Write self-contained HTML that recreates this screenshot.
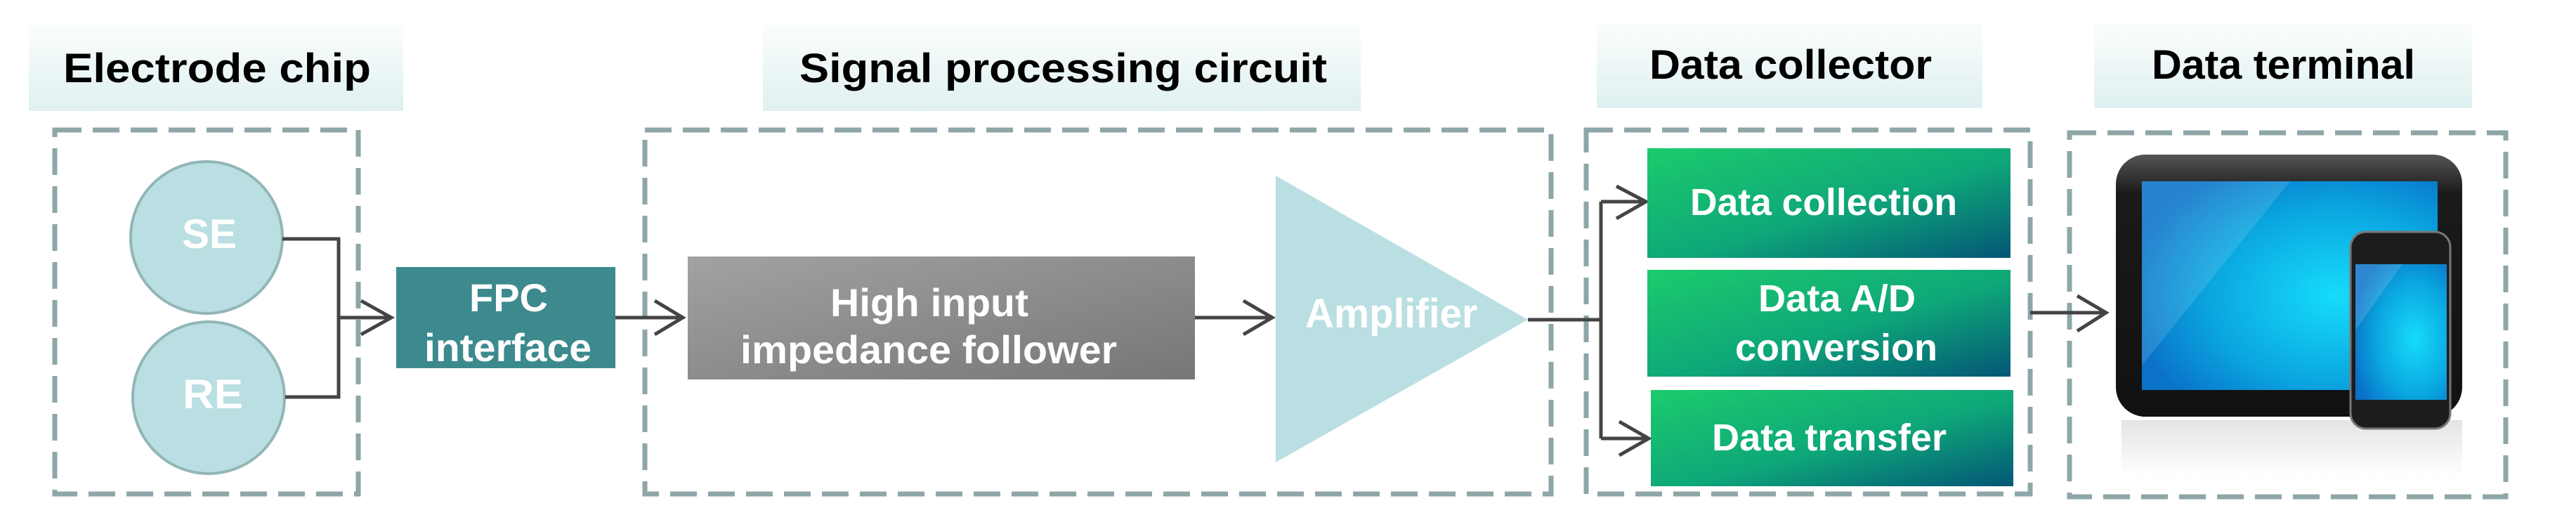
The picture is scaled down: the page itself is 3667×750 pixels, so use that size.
<!DOCTYPE html>
<html><head><meta charset="utf-8"><style>
html,body{margin:0;padding:0;background:#fff;width:3667px;height:750px;overflow:hidden}
text{font-family:"Liberation Sans Narrow","Liberation Sans",Arial,sans-serif;font-weight:bold}
</style></head><body>
<svg width="3667" height="750" viewBox="0 0 3667 750" xmlns="http://www.w3.org/2000/svg">
<defs>
<linearGradient id="tg" x1="0" y1="0" x2="0" y2="1"><stop offset="0" stop-color="#fbfdfd"/><stop offset="1" stop-color="#dff0f0"/></linearGradient>
<linearGradient id="gg" x1="0" y1="0" x2="1" y2="1"><stop offset="0" stop-color="#1ccb6c"/><stop offset="0.55" stop-color="#0ea779"/><stop offset="1" stop-color="#045676"/></linearGradient>
<linearGradient id="hg" x1="0" y1="0" x2="1" y2="1"><stop offset="0" stop-color="#a2a2a2"/><stop offset="1" stop-color="#767676"/></linearGradient>
<radialGradient id="sg" cx="0.65" cy="0.55" r="0.7"><stop offset="0" stop-color="#16dcfa"/><stop offset="0.6" stop-color="#0aa6e0"/><stop offset="1" stop-color="#0a72c8"/></radialGradient>
<linearGradient id="rf" x1="0" y1="0" x2="0" y2="1"><stop offset="0" stop-color="#d8d8d8"/><stop offset="1" stop-color="#ffffff"/></linearGradient>
<linearGradient id="fr" x1="0" y1="0" x2="0" y2="1"><stop offset="0" stop-color="#555"/><stop offset="0.15" stop-color="#1a1a1a"/><stop offset="1" stop-color="#111"/></linearGradient>
</defs>
<rect x="41" y="36" width="533" height="122" fill="url(#tg)"/>
<text x="90" y="117" font-size="58" textLength="438" lengthAdjust="spacingAndGlyphs">Electrode chip</text>
<rect x="1086" y="36" width="851" height="122" fill="url(#tg)"/>
<text x="1138" y="117" font-size="58" textLength="751" lengthAdjust="spacingAndGlyphs">Signal processing circuit</text>
<rect x="2273" y="34" width="549" height="120" fill="url(#tg)"/>
<text x="2348" y="112" font-size="58" textLength="402" lengthAdjust="spacingAndGlyphs">Data collector</text>
<rect x="2981" y="34" width="538" height="120" fill="url(#tg)"/>
<text x="3063" y="112" font-size="58" textLength="375" lengthAdjust="spacingAndGlyphs">Data terminal</text>
<g fill="none" stroke="#8ea6a7" stroke-width="7" stroke-dasharray="38 16">
<rect x="78" y="185" width="432" height="518"/>
<rect x="918" y="185" width="1290" height="518"/>
<rect x="2258" y="185" width="632" height="518"/>
<rect x="2946" y="189" width="621" height="518"/>
</g>
<ellipse cx="294" cy="338" rx="108" ry="108" fill="#b9dfe2" stroke="#92b6b8" stroke-width="4"/>
<ellipse cx="297" cy="566" rx="108" ry="108" fill="#b9dfe2" stroke="#92b6b8" stroke-width="4"/>
<text x="259" y="353" font-size="58" fill="#fff" textLength="78" lengthAdjust="spacingAndGlyphs">SE</text>
<text x="260" y="581" font-size="58" fill="#fff" textLength="86" lengthAdjust="spacingAndGlyphs">RE</text>
<g fill="none" stroke="#444" stroke-width="5">
<polyline points="402,340 482,340 482,565 406,565"/>
<line x1="482" y1="452" x2="556" y2="452"/>
<polyline points="514,428 557,452 514,476"/>
<line x1="876" y1="452" x2="971" y2="452"/>
<polyline points="932,428 972,452 932,476"/>
<line x1="1701" y1="452" x2="1810" y2="452"/>
<polyline points="1770,428 1811,452 1770,476"/>
<line x1="2175" y1="455" x2="2279" y2="455"/>
<polyline points="2279,287 2279,624"/>
<line x1="2279" y1="287" x2="2342" y2="287"/>
<polyline points="2301,265 2343,287 2301,311"/>
<line x1="2279" y1="624" x2="2346" y2="624"/>
<polyline points="2305,600 2347,624 2305,648"/>
<line x1="2890" y1="445" x2="2997" y2="445"/>
<polyline points="2957,421 2998,445 2957,471"/>
</g>
<rect x="564" y="380" width="312" height="144" fill="#3d8a8e"/>
<text x="668" y="443" font-size="56" fill="#fff" textLength="112" lengthAdjust="spacingAndGlyphs">FPC</text>
<text x="604" y="514" font-size="56" fill="#fff" textLength="238" lengthAdjust="spacingAndGlyphs">interface</text>
<rect x="979" y="365" width="722" height="175" fill="url(#hg)"/>
<text x="1182" y="450" font-size="56" fill="#fff" textLength="282" lengthAdjust="spacingAndGlyphs">High input</text>
<text x="1054" y="517" font-size="56" fill="#fff" textLength="536" lengthAdjust="spacingAndGlyphs">impedance follower</text>
<polygon points="1816,250 2175,455 1816,658" fill="#badfe2"/>
<text x="1858" y="466" font-size="58" fill="#fff" textLength="245" lengthAdjust="spacingAndGlyphs">Amplifier</text>
<rect x="2345" y="211" width="517" height="156" fill="url(#gg)"/>
<rect x="2345" y="384" width="517" height="152" fill="url(#gg)"/>
<rect x="2350" y="555" width="516" height="137" fill="url(#gg)"/>
<text x="2406" y="306" font-size="54" fill="#fff" textLength="380" lengthAdjust="spacingAndGlyphs">Data collection</text>
<text x="2503" y="443" font-size="54" fill="#fff" textLength="224" lengthAdjust="spacingAndGlyphs">Data A/D</text>
<text x="2470" y="513" font-size="54" fill="#fff" textLength="288" lengthAdjust="spacingAndGlyphs">conversion</text>
<text x="2437" y="641" font-size="54" fill="#fff" textLength="334" lengthAdjust="spacingAndGlyphs">Data transfer</text>
<rect x="3020" y="598" width="485" height="80" fill="url(#rf)" opacity="0.7"/>
<rect x="3012" y="220" width="493" height="373" rx="42" fill="url(#fr)"/>
<rect x="3049" y="258" width="421" height="297" fill="url(#sg)"/>
<polygon points="3049,258 3260,258 3049,520" fill="#ffffff" opacity="0.12"/>
<rect x="3346" y="330" width="142" height="280" rx="22" fill="#1c1c1c" stroke="#777" stroke-width="3"/>
<rect x="3353" y="376" width="130" height="193" fill="url(#sg)"/>
<polygon points="3353,376 3420,376 3353,470" fill="#fff" opacity="0.15"/>
</svg>
</body></html>
